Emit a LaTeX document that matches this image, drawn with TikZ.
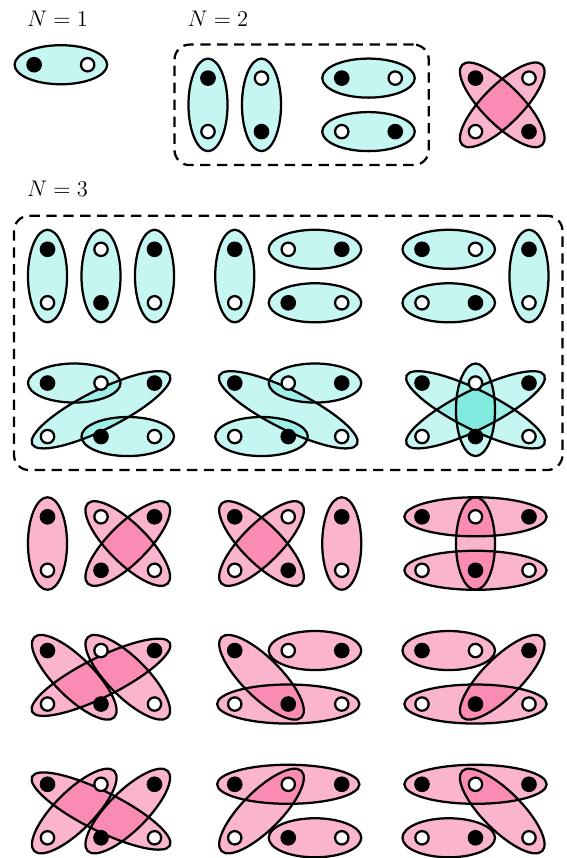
\documentclass[tikz,border=0pt]{standalone}
\usetikzlibrary{shapes.geometric,fit}
\definecolor{loopcyan}{RGB}{64,224,208}
\definecolor{looppink}{RGB}{246,89,147}
\pgfdeclarelayer{fills}
\pgfdeclarelayer{rims}
\pgfsetlayers{fills,rims,main}
\tikzset{
  hoop/.style={ellipse, inner sep=0pt, outer sep=0pt, sloped,
    minimum height=0.73cm, minimum width={(0.93*#1+0.80)*1cm}},
  cyanfill/.style={fill=loopcyan, fill opacity=0.3},
  pinkfill/.style={fill=looppink, fill opacity=0.45},
  rim/.style={draw=black, line width=1.2pt},
  dot/.style={circle, draw=black, fill=#1, line width=1.2pt, inner sep=0pt, minimum size=0.25cm},
  frame/.style={draw=black, line width=1.2pt, dash pattern=on 5.5pt off 3.5pt,
    rounded corners=8pt, inner sep=0.48cm},
  lab/.style={anchor=base west, inner sep=0pt, font=\large},
}
% one loop round two dots: fill below, outline above
\newcommand{\hoopat}[4]{%
  \begin{pgfonlayer}{fills}
    \path (#3.center) -- (#4.center) node[midway, hoop=#2, #1] (hoop #3 #4) {};
  \end{pgfonlayer}
  \begin{pgfonlayer}{rims}
    \path (#3.center) -- (#4.center) node[midway, hoop=#2, rim] (rim #3 #4) {};
  \end{pgfonlayer}}
\begin{document}
\begin{tikzpicture}[x=1cm,y=-1cm]
\useasboundingbox (-0.888,-4.660) rectangle (9.710,11.378);
% labels
\node[lab] (n1) at (-0.39,-4.16) {$N=1$};
\node[lab] (n2) at (2.61,-4.16) {$N=2$};
\node[lab] (n3) at (-0.39,-0.98) {$N=3$};
% dots, black where k+m is even
\foreach \id/\ox/\oy/\nc/\nr in {a/-0.25/-3.45/1/0,
    b/3/-3.2/1/1, c/5.5/-3.2/1/1, d/8/-3.2/1/1,
    e/0/0/2/1, f/3.5/0/2/1, g/7/0/2/1,
    h/0/2.5/2/1, i/3.5/2.5/2/1, j/7/2.5/2/1,
    k/0/5/2/1, l/3.5/5/2/1, m/7/5/2/1,
    n/0/7.5/2/1, o/3.5/7.5/2/1, p/7/7.5/2/1,
    q/0/10/2/1, r/3.5/10/2/1, s/7/10/2/1}
  \foreach \k in {0,...,\nc}
    \foreach \m in {0,...,\nr} {
      \ifodd\numexpr\k+\m\relax \def\dotfill{white}\else\def\dotfill{black}\fi
      \node[dot=\dotfill] (\id-\k-\m) at (\ox+\k,\oy+\m) {};
    }
% cyan loops
\foreach \u/\v/\d in {a-0-0/a-1-0/1,
    b-0-0/b-0-1/1, b-1-0/b-1-1/1, c-0-0/c-1-0/1, c-0-1/c-1-1/1,
    e-0-0/e-0-1/1, e-1-0/e-1-1/1, e-2-0/e-2-1/1,
    f-0-0/f-0-1/1, f-1-0/f-2-0/1, f-1-1/f-2-1/1,
    g-0-0/g-1-0/1, g-0-1/g-1-1/1, g-2-0/g-2-1/1,
    h-0-0/h-1-0/1, h-1-1/h-2-1/1, h-0-1/h-2-0/2.236,
    i-1-0/i-2-0/1, i-0-1/i-1-1/1, i-0-0/i-2-1/2.236,
    j-0-0/j-2-1/2.236, j-0-1/j-2-0/2.236, j-1-0/j-1-1/1}
  \hoopat{cyanfill}{\d}{\u}{\v};
% pink loops
\foreach \u/\v/\d in {d-0-0/d-1-1/1.414, d-1-0/d-0-1/1.414,
    k-0-0/k-0-1/1, k-1-0/k-2-1/1.414, k-2-0/k-1-1/1.414,
    l-0-0/l-1-1/1.414, l-1-0/l-0-1/1.414, l-2-0/l-2-1/1,
    m-0-0/m-2-0/2, m-0-1/m-2-1/2, m-1-0/m-1-1/1,
    n-0-0/n-1-1/1.414, n-1-0/n-2-1/1.414, n-0-1/n-2-0/2.236,
    o-1-0/o-2-0/1, o-0-1/o-2-1/2, o-0-0/o-1-1/1.414,
    p-0-0/p-1-0/1, p-0-1/p-2-1/2, p-1-1/p-2-0/1.414,
    q-0-0/q-2-1/2.236, q-0-1/q-1-0/1.414, q-1-1/q-2-0/1.414,
    r-0-0/r-2-0/2, r-1-1/r-2-1/1, r-0-1/r-1-0/1.414,
    s-0-0/s-2-0/2, s-0-1/s-1-1/1, s-1-0/s-2-1/1.414}
  \hoopat{pinkfill}{\d}{\u}{\v};
% dashed frames
\node[frame, fit=(b-0-0)(c-1-1)] (box2) {};
\node[frame, fit=(e-0-0)(j-2-1)] (box3) {};
\end{tikzpicture}
\end{document}
